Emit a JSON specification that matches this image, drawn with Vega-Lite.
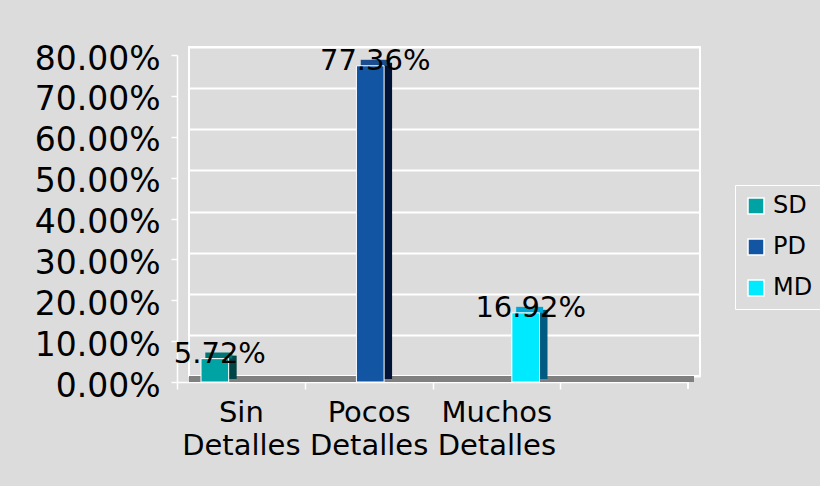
{
  "$schema": "https://vega.github.io/schema/vega-lite/v6.json",
  "width": 511,
  "height": 329,
  "autosize": {"type": "none"},
  "padding": {"left": 189, "top": 47, "right": 120, "bottom": 110},
  "background": "#dcdcdc",
  "config": {
    "view": {"stroke": "white", "strokeWidth": 2},
    "font": "DejaVu Sans"
  },
  "data": {
    "values": [
      {"categoria": "Sin Detalles", "serie": "SD", "valor": 0.0572},
      {"categoria": "Pocos Detalles", "serie": "PD", "valor": 0.7736},
      {"categoria": "Muchos Detalles", "serie": "MD", "valor": 0.1692}
    ]
  },
  "resolve": {"scale": {"x": "independent", "y": "independent", "fill": "independent"}},
  "layer": [
    {
      "mark": {"type": "rule", "color": "#808080", "strokeWidth": 6, "xOffset": -6, "x2Offset": -6, "yOffset": 3},
      "encoding": {
        "y": {"datum": 0, "type": "quantitative",
          "scale": {"domain": [0, 0.8], "nice": false},
          "axis": {"orient": "right", "title": null, "grid": true, "gridColor": "white", "gridWidth": 2,
            "labels": false, "ticks": false, "domain": false,
            "values": [0, 0.1, 0.2, 0.3, 0.4, 0.5, 0.6, 0.7, 0.8]}}
      }
    },
    {
      "mark": {"type": "rule", "color": "white", "strokeWidth": 1.5},
      "encoding": {
        "x": {"datum": "_", "bandPosition": 1, "axis": null,
          "scale": {"domain": ["Sin Detalles", "Pocos Detalles", "Muchos Detalles", "_"], "paddingInner": 0, "paddingOuter": 0, "range": [-12, 499]}},
        "y": {"datum": 0, "type": "quantitative", "axis": null,
          "scale": {"domain": [0, 0.8], "nice": false, "range": [335, 8]}},
        "y2": {"datum": -0.017}
      }
    },
    {
      "mark": {"type": "bar", "width": 8},
      "encoding": {
        "x": {"field": "categoria", "type": "nominal", "sort": null, "axis": null,
          "scale": {"domain": ["Sin Detalles", "Pocos Detalles", "Muchos Detalles", "_"], "paddingInner": 0, "paddingOuter": 0, "range": [5.83, 516.83]}},
        "xOffset": {"field": "serie", "type": "nominal", "scale": {"domain": ["SD", "PD", "MD"], "paddingInner": 0, "paddingOuter": 0, "range": [24, 107]}},
        "y": {"field": "valor", "type": "quantitative", "axis": null,
          "scale": {"domain": [0, 0.8], "nice": false, "range": [332, 5]}},
        "fill": {"field": "serie", "type": "nominal", "legend": null,
          "scale": {"domain": ["SD", "PD", "MD"], "range": ["#004646", "#001236", "#005A82"]}}
      }
    },
    {
      "mark": {"type": "tick", "orient": "horizontal", "thickness": 6, "size": 27, "opacity": 1},
      "encoding": {
        "x": {"field": "categoria", "type": "nominal", "sort": null, "axis": null,
          "scale": {"domain": ["Sin Detalles", "Pocos Detalles", "Muchos Detalles", "_"], "paddingInner": 0, "paddingOuter": 0, "range": [-8, 503]}},
        "xOffset": {"field": "serie", "type": "nominal"},
        "y": {"field": "valor", "type": "quantitative", "axis": null,
          "scale": {"domain": [0, 0.8], "nice": false, "range": [332, 5]}},
        "fill": {"field": "serie", "type": "nominal", "legend": null,
          "scale": {"domain": ["SD", "PD", "MD"], "range": ["#007575", "#1A4C8F", "#00A8D8"]}}
      }
    },
    {
      "mark": {"type": "bar", "stroke": "white", "strokeWidth": 1},
      "encoding": {
        "x": {"field": "categoria", "type": "nominal", "sort": null,
          "scale": {"domain": ["Sin Detalles", "Pocos Detalles", "Muchos Detalles", "_"], "paddingInner": 0, "paddingOuter": 0, "range": [-12, 499]},
          "axis": {
            "title": null, "labelAngle": 0,
            "labelExpr": "indexof(['Sin Detalles', 'Pocos Detalles', 'Muchos Detalles'], datum.value) < 0 ? '' : split(datum.value, ' ')",
            "labelFontSize": 29, "labelLineHeight": 33, "labelColor": "black", "labelPadding": 9,
            "tickOffset": -63.875, "labelOffset": 63.875,
            "tickColor": "white", "tickSize": 7, "tickWidth": 1.5,
            "domainColor": "white", "domainWidth": 1.5,
            "offset": 6, "grid": false
          }},
        "xOffset": {"field": "serie", "type": "nominal"},
        "y": {"field": "valor", "type": "quantitative",
          "scale": {"domain": [0, 0.8], "nice": false, "range": [335, 8]},
          "axis": {
            "orient": "left", "title": null, "format": ".2%",
            "values": [0, 0.1, 0.2, 0.3, 0.4, 0.5, 0.6, 0.7, 0.8],
            "labelFontSize": 33, "labelColor": "black", "labelPadding": 11, "labelOffset": 4,
            "tickColor": "white", "tickSize": 6, "tickWidth": 1.5,
            "domainColor": "white", "domainWidth": 1.5,
            "grid": false, "offset": 12
          }},
        "color": {"field": "serie", "type": "nominal",
          "scale": {"domain": ["SD", "PD", "MD"], "range": ["#00A3A3", "#1255A2", "#00EAFF"]},
          "legend": {
            "title": null, "orient": "none", "legendX": 546, "legendY": 138,
            "symbolType": "square", "symbolSize": 256, "symbolStrokeColor": "white", "symbolStrokeWidth": 1.5,
            "symbolOpacity": 1,
            "labelFontSize": 24, "labelColor": "black", "labelOffset": 5,
            "rowPadding": 17, "padding": 9, "strokeColor": "white"
          }}
      }
    },
    {
      "mark": {"type": "text", "dx": 5, "dy": -5, "fontSize": 29, "baseline": "middle", "color": "black"},
      "encoding": {
        "x": {"field": "categoria", "type": "nominal", "sort": null, "axis": null,
          "scale": {"domain": ["Sin Detalles", "Pocos Detalles", "Muchos Detalles", "_"], "paddingInner": 0, "paddingOuter": 0, "range": [-12, 499]}},
        "xOffset": {"field": "serie", "type": "nominal"},
        "y": {"field": "valor", "type": "quantitative", "axis": null,
          "scale": {"domain": [0, 0.8], "nice": false, "range": [335, 8]}},
        "text": {"field": "valor", "type": "quantitative", "format": ".2%"}
      }
    }
  ]
}
